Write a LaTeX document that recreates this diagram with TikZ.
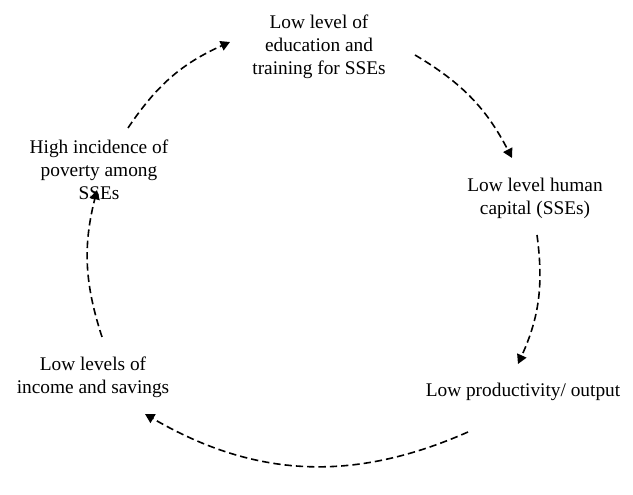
\documentclass[tikz,border=0pt]{standalone}
\usepackage{fontspec}
\setmainfont{Liberation Serif}
\usetikzlibrary{arrows.meta}
\tikzset{
  lb/.style={align=center, font=\fontsize{14.5}{17.4}\selectfont, inner sep=0pt},
  ca/.style={-{Triangle[length=7pt,width=7.5pt]}, dash pattern=on 5.5pt off 3pt,
             line width=1.2pt, bend left=16}
}

\begin{document}
\begin{tikzpicture}[x=0.75pt,y=-0.75pt]
  \useasboundingbox (0,0) rectangle (633,495);
  \node[lb] (edu) at (319,47) {Low level of\\education and\\training for SSEs};
  \node[lb] (hum) at (535,198) {Low level human\\capital (SSEs)};
  \node[lb] (prod) at (523,392) {Low productivity/ output};
  \node[lb] (inc) at (93,377) {Low levels of\\income and savings};
  \node[lb] (pov) at (99,170) {High incidence of\\poverty among\\SSEs};
  % free ends of the cycle arrows
  \coordinate (p1) at (128,128); \coordinate (e1) at (230,42);
  \coordinate (p2) at (415,55);  \coordinate (e2) at (512,158);
  \coordinate (p3) at (537,235); \coordinate (e3) at (518,364);
  \coordinate (p4) at (468,432); \coordinate (e4) at (145,414);
  \coordinate (p5) at (102,337); \coordinate (e5) at (97,190);
  \draw[ca] (p1) to (e1);
  \draw[ca] (p2) to (e2);
  \draw[ca] (p3) to (e3);
  \draw[ca, bend left=27] (p4) to (e4);
  \draw[ca] (p5) to (e5);
\end{tikzpicture}
\end{document}
